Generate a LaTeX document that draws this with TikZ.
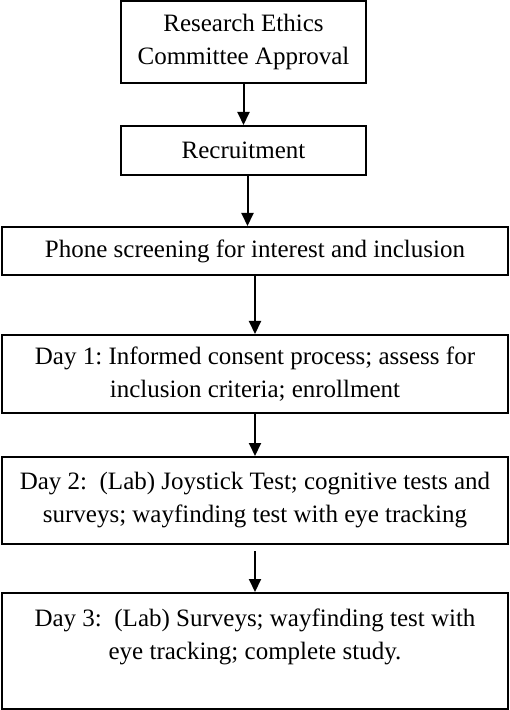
\documentclass[tikz,border=0pt]{standalone}
\usepackage{fontspec}
\setmainfont{Liberation Serif}
\usetikzlibrary{arrows.meta}
\tikzset{
    nodeStep/.style={
        draw,
        line width=1pt,
        align=center,
        inner sep=2pt,
        font=\fontsize{12.5}{16.5}\selectfont\frenchspacing,
    },
    edgeFlow/.style={
        arrows={-Triangle[width=6pt,length=6.5pt]},
        line width=1pt,
    },
}

\begin{document}
\begin{tikzpicture}
    \useasboundingbox (0,0) rectangle (254.5pt,-355pt);

    \node[nodeStep,minimum width=122.5pt,minimum height=41pt] (ethics) at (121.75pt,-21pt) {Research Ethics\\Committee Approval};
    \node[nodeStep,minimum width=122.5pt,minimum height=24.5pt] (recruit) at (121.75pt,-75.25pt) {Recruitment};
    \node[nodeStep,minimum width=253pt,minimum height=24pt] (phone) at (127.5pt,-125.5pt) {Phone screening for interest and inclusion};
    \node[nodeStep,minimum width=253pt,minimum height=39pt] (day1) at (127.5pt,-187pt) {Day 1: Informed consent process; assess for\\inclusion criteria; enrollment};
    \node[nodeStep,minimum width=253pt,minimum height=43.5pt] (day2) at (127.5pt,-250.25pt) {Day 2:\ \ (Lab) Joystick Test; cognitive tests and\\surveys; wayfinding test with eye tracking};
    \node[nodeStep,minimum width=253pt,minimum height=58pt] (day3) at (127.5pt,-325.5pt) {Day 3:\ \ (Lab) Surveys; wayfinding test with\\eye tracking; complete study.\\\mbox{}};

    \draw[edgeFlow] (ethics.south) -- (recruit.north);
    \draw[edgeFlow] ([xshift=2pt]recruit.south) -- ([xshift=2pt]recruit.south |- phone.north);
    \draw[edgeFlow] (phone.south) -- (day1.north);
    \draw[edgeFlow] (day1.south) -- (day2.north);
    \draw[edgeFlow,shorten <=3pt] (day2.south) -- (day3.north);
\end{tikzpicture}
\end{document}
